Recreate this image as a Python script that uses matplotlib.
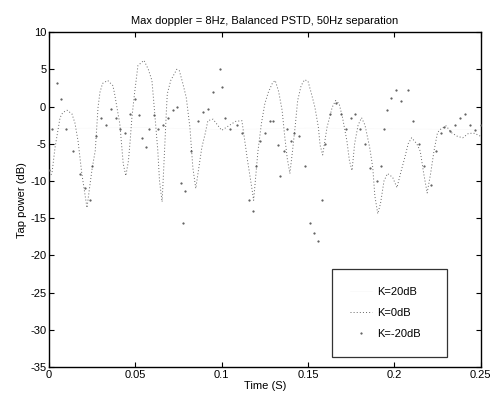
import matplotlib
matplotlib.use("Agg")
import matplotlib.pyplot as plt

plt.rcParams["font.family"] = ["Liberation Sans", "DejaVu Sans"]
plt.rcParams["axes.unicode_minus"] = False

# K = 0 dB (dotted line) -- time (s), tap power (dB)
t_k0 = [0.000, 0.0017, 0.0035, 0.0064, 0.008, 0.0105, 0.0133, 0.015, 0.0168, 0.019,
        0.022, 0.0235, 0.025, 0.0268, 0.0284, 0.0295, 0.031, 0.034, 0.037, 0.038,
        0.040, 0.041, 0.042, 0.043, 0.0445, 0.046, 0.047, 0.048, 0.0495, 0.0515,
        0.055, 0.0575, 0.0596, 0.0605, 0.063, 0.064, 0.0655, 0.0665, 0.068, 0.0685,
        0.0705, 0.074, 0.0755, 0.0775, 0.0795, 0.0816, 0.0833, 0.085, 0.0885, 0.0905,
        0.092, 0.095, 0.100, 0.104, 0.108, 0.1117, 0.113, 0.115, 0.1175, 0.1185,
        0.121, 0.123, 0.125, 0.127, 0.1295, 0.131, 0.133, 0.135, 0.1365, 0.138,
        0.1395, 0.141, 0.1425, 0.144, 0.146, 0.148, 0.150, 0.152, 0.154, 0.156,
        0.157, 0.1585, 0.161, 0.164, 0.166, 0.168, 0.170, 0.1725, 0.174, 0.1755,
        0.177, 0.179, 0.181, 0.183, 0.1857, 0.1875, 0.1887, 0.1904, 0.192, 0.194,
        0.196, 0.199, 0.2015, 0.204, 0.206, 0.208, 0.210, 0.213, 0.215, 0.217,
        0.219, 0.221, 0.223, 0.225, 0.227, 0.230, 0.233, 0.2365, 0.2396, 0.243,
        0.2465, 0.250]
p_k0 = [-9.5, -9.0, -5.5, -1.5, -0.8, -0.5, -1.0, -2.2, -4.6, -9.0,
        -13.6, -10.9, -8.3, -5.9, -0.1, 1.9, 3.1, 3.5, 2.8, 1.7,
        -1.0, -2.3, -5.0, -7.7, -9.3, -7.3, -4.6, -1.5, 1.7, 5.5,
        6.2, 5.0, 3.5, 1.1, -5.9, -10.0, -12.8, -8.0, -0.5, 1.7,
        3.5, 5.0, 4.8, 3.1, 1.2, -2.8, -8.2, -11.0, -5.5, -3.6,
        -1.9, -1.7, -3.2, -2.6, -2.0, -1.9, -4.0, -7.3, -11.0, -12.6,
        -6.0, -2.3, 0.4, 1.9, 3.2, 3.5, 2.0, -0.5, -4.0, -7.0,
        -9.0, -6.0, -2.8, 0.8, 2.8, 3.6, 3.4, 1.7, -0.1, -2.8,
        -5.2, -6.5, -2.8, -0.1, 0.8, 0.4, -1.5, -4.6, -7.3, -8.6,
        -5.0, -2.5, -1.5, -2.5, -5.5, -8.2, -12.0, -14.4, -13.0, -10.0,
        -9.0, -9.5, -10.9, -8.6, -6.9, -5.0, -4.2, -5.0, -6.0, -9.0,
        -11.6, -9.0, -5.9, -3.5, -3.0, -2.6, -3.5, -4.0, -4.2, -3.6,
        -3.6, -4.0]

# K = -20 dB (point markers)
t_km20 = [0.000, 0.002, 0.0046, 0.007, 0.010, 0.014, 0.018, 0.021, 0.0235, 0.025,
          0.027, 0.030, 0.033, 0.036, 0.039, 0.041, 0.044, 0.047, 0.050, 0.052,
          0.054, 0.056, 0.058, 0.061, 0.063, 0.066, 0.069, 0.072, 0.074, 0.0765,
          0.0776, 0.079, 0.082, 0.086, 0.089, 0.092, 0.095, 0.099, 0.100, 0.102,
          0.105, 0.109, 0.112, 0.116, 0.118, 0.120, 0.122, 0.125, 0.128, 0.130,
          0.1325, 0.134, 0.136, 0.138, 0.140, 0.142, 0.145, 0.148, 0.151, 0.1535,
          0.1557, 0.158, 0.160, 0.163, 0.166, 0.169, 0.172, 0.175, 0.177, 0.180,
          0.183, 0.186, 0.190, 0.192, 0.194, 0.196, 0.198, 0.201, 0.204, 0.208,
          0.211, 0.214, 0.217, 0.2215, 0.224, 0.227, 0.229, 0.232, 0.235, 0.238,
          0.241, 0.244, 0.2465, 0.250]
p_km20 = [-8.5, -3.0, 3.2, 1.0, -3.0, -6.0, -9.0, -11.0, -12.5, -8.0,
          -4.0, -1.5, -2.5, -0.3, -1.5, -3.0, -3.5, -1.0, 1.0, -1.2,
          -4.2, -5.5, -3.0, -1.2, -3.0, -2.5, -1.5, -0.5, -0.1, -10.3,
          -15.7, -11.3, -6.0, -2.0, -0.8, -0.3, 2.0, 5.1, 2.6, -1.5,
          -3.0, -2.5, -3.5, -12.5, -14.0, -8.0, -4.6, -3.5, -2.0, -1.9,
          -5.2, -9.3, -6.0, -3.0, -4.6, -3.5, -4.0, -8.0, -15.7, -17.0,
          -18.0, -12.6, -5.0, -1.0, 0.5, -1.0, -3.0, -1.5, -1.0, -3.0,
          -5.0, -8.2, -10.0, -8.0, -3.0, -0.5, 1.2, 2.2, 0.8, 2.2,
          -2.0, -5.0, -8.0, -10.5, -6.0, -3.5, -2.8, -3.3, -2.5, -1.5,
          -1.0, -2.5, -3.2, -2.5]

# K = 20 dB (solid line, barely visible in the original)
t_k20 = [0.0, 0.05, 0.1, 0.15, 0.2, 0.25]
p_k20 = [-3.0, -2.8, -3.1, -2.9, -3.0, -3.1]

fig = plt.figure(figsize=(4.9, 3.96), dpi=100)
ax = fig.add_axes([0.1, 0.073, 0.881, 0.846])

ax.plot(t_k20, p_k20, "-", color="0.975", lw=0.5, zorder=1, label="K=20dB")
ax.plot(t_k0, p_k0, color="0.4", lw=0.7, dashes=(1, 2.2), zorder=2, label="K=0dB")
ax.plot(t_km20, p_km20, ".", color="0.3", ms=1.1, ls="none", zorder=3, label="K=-20dB")

ax.set_xlim(0, 0.25)
ax.set_ylim(-35, 10)
ax.set_xticks([0, 0.05, 0.1, 0.15, 0.2, 0.25])
ax.set_xticklabels(["0", "0.05", "0.1", "0.15", "0.2", "0.25"])
ax.set_yticks(range(-35, 11, 5))
ax.tick_params(direction="in", top=True, right=True, length=3.5, width=0.8,
               labelsize=8, pad=2)
for s in ax.spines.values():
    s.set_linewidth(1.0)

ax.set_title("Max doppler = 8Hz, Balanced PSTD, 50Hz separation", fontsize=8, pad=6)
ax.set_xlabel("Time (S)", fontsize=8, labelpad=1)
ax.set_ylabel("Tap power (dB)", fontsize=8, labelpad=2)

leg = ax.legend(loc="lower left", bbox_to_anchor=(0.655, 0.03, 0.266, 0.257),
                mode="expand", borderaxespad=0, fontsize=8, frameon=True,
                fancybox=False, edgecolor="black", borderpad=1.6, labelspacing=1.0,
                handlelength=2.0, handletextpad=0.5, markerscale=1.0)
leg.get_frame().set_linewidth(0.9)

fig.savefig("out.png", dpi=100)
